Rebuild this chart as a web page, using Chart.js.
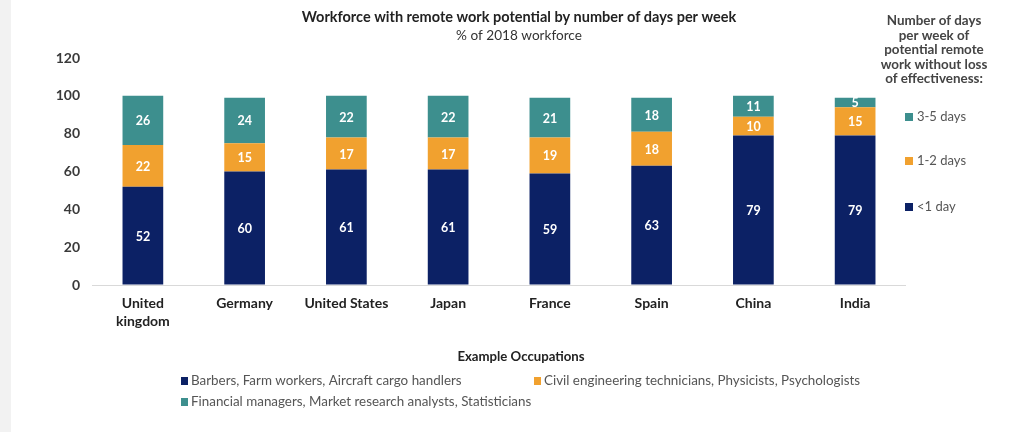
<!DOCTYPE html>
<html>
<head>
<meta charset="utf-8">
<title>Workforce with remote work potential</title>
<script src="https://cdn.jsdelivr.net/npm/chart.js@4.4.1/dist/chart.umd.min.js"></script>
<style>
  html, body { margin: 0; padding: 0; background: #ffffff; }
  #wrap { position: relative; width: 1009px; height: 432px; }
</style>
</head>
<body>
<div id="wrap"><canvas id="chart"></canvas></div>
<script>
// Countries along the x axis (multi-line labels as arrays)
const countries = [["United", "kingdom"], "Germany", "United States", "Japan", "France", "Spain", "China", "India"];

// Share of 2018 workforce, by days per week of remote work without loss of effectiveness
const lessThanOneDay = [52, 60, 61, 61, 59, 63, 79, 79];
const oneToTwoDays   = [22, 15, 17, 17, 19, 18, 10, 15];
const threeToFiveDays = [26, 24, 22, 22, 21, 18, 11, 5];

const seriesNames = ["<1 day", "1-2 days", "3-5 days"];
const occupations = [
  "Barbers, Farm workers, Aircraft cargo handlers",
  "Civil engineering technicians, Physicists, Psychologists",
  "Financial managers, Market research analysts, Statisticians"
];
const yTicks = [0, 20, 40, 60, 80, 100, 120];

const chartTitle = "Workforce with remote work potential by number of days per week";
const chartSubtitle = "% of 2018 workforce";
const sideLegendTitle = ["Number of days", "per week of", "potential remote", "work without loss", "of effectiveness:"];
const bottomLegendTitle = "Example Occupations";

const NAVY = "#0c2165";
const ORANGE = "#f1a12f";
const TEAL = "#3d8f8e";
const colors = [NAVY, ORANGE, TEAL];

const FONT = "Lato, 'Open Sans', sans-serif";

// White value labels in the middle of each stacked segment
const segmentLabels = {
  id: "segmentLabels",
  afterDatasetsDraw(chart) {
    const ctx = chart.ctx;
    ctx.save();
    ctx.fillStyle = "#ffffff";
    ctx.font = "bold 12.5px " + FONT;
    ctx.textAlign = "center";
    ctx.textBaseline = "middle";
    chart.data.datasets.forEach((ds, di) => {
      const meta = chart.getDatasetMeta(di);
      meta.data.forEach((bar, i) => {
        const v = ds.data[i];
        const cy = (bar.y + bar.base) / 2;
        ctx.fillText(String(v), bar.x, cy + 1);
      });
    });
    ctx.restore();
  }
};

// Page furniture: title block, side legend and occupation legend
const furniture = {
  id: "furniture",
  beforeDraw(chart) {
    const ctx = chart.ctx;
    ctx.save();
    ctx.fillStyle = "#f2f2f2";
    ctx.fillRect(0, 0, 11, chart.height);
    ctx.restore();
  },
  afterDraw(chart) {
    const ctx = chart.ctx;
    ctx.save();
    ctx.textBaseline = "middle";

    // Title and subtitle
    ctx.textAlign = "center";
    ctx.fillStyle = "#222222";
    ctx.font = "bold 14.5px " + FONT;
    ctx.fillText(chartTitle, 519, 17);
    ctx.font = "13.6px " + FONT;
    ctx.fillStyle = "#333333";
    ctx.fillText(chartSubtitle, 519, 36);

    // Side legend title
    ctx.font = "bold 13.4px " + FONT;
    ctx.fillStyle = "#444444";
    sideLegendTitle.forEach((line, k) => ctx.fillText(line, 934, 21 + k * 14.5));

    // Side legend entries (top to bottom: 3-5, 1-2, <1)
    ctx.textAlign = "left";
    ctx.font = "13px " + FONT;
    const sideY = [117, 161, 207];
    [2, 1, 0].forEach((si, k) => {
      ctx.fillStyle = colors[si];
      ctx.fillRect(905, sideY[k] - 4, 8, 8);
      ctx.fillStyle = "#555555";
      ctx.fillText(seriesNames[si], 917, sideY[k]);
    });

    // Occupation legend
    ctx.textAlign = "center";
    ctx.font = "bold 13.2px " + FONT;
    ctx.fillStyle = "#222222";
    ctx.fillText(bottomLegendTitle, 521, 357);
    ctx.textAlign = "left";
    ctx.font = "13.4px " + FONT;
    const spots = [[181, 381], [534, 381], [181, 402]];
    occupations.forEach((txt, k) => {
      const [x, y] = spots[k];
      ctx.fillStyle = colors[k];
      ctx.fillRect(x, y - 4, 7, 8);
      ctx.fillStyle = "#555555";
      ctx.fillText(txt, x + 10, y);
    });
    ctx.restore();
  }
};

new Chart(document.getElementById("chart"), {
  type: "bar",
  data: {
    labels: countries,
    datasets: [
      { label: seriesNames[0], data: lessThanOneDay, backgroundColor: NAVY },
      { label: seriesNames[1], data: oneToTwoDays, backgroundColor: ORANGE },
      { label: seriesNames[2], data: threeToFiveDays, backgroundColor: TEAL }
    ]
  },
  options: {
    responsive: true,
    maintainAspectRatio: false,
    animation: false,
    devicePixelRatio: 1,
    layout: { padding: { top: 58, right: 103, bottom: 87, left: 11 } },
    datasets: { bar: { categoryPercentage: 1, barPercentage: 0.4 } },
    plugins: {
      legend: { display: false },
      title: { display: false },
      tooltip: { enabled: false }
    },
    scales: {
      x: {
        stacked: true,
        grid: { display: false, drawTicks: false },
        border: { display: false },
        afterFit(scale) { scale.height = 60; },
        ticks: {
          padding: 9,
          maxRotation: 0,
          color: "#222222",
          font: { family: FONT, size: 14, weight: "bold", lineHeight: 1.29 }
        }
      },
      y: {
        stacked: true,
        min: 0,
        max: 120,
        afterFit(scale) { scale.width = 81; },
        afterBuildTicks(scale) { scale.ticks = yTicks.map(v => ({ value: v })); },
        border: { display: false },
        grid: {
          drawTicks: false,
          color: (c) => (c.tick && c.tick.value === 0 ? "#d9d9d9" : "rgba(0,0,0,0)"),
          lineWidth: 1
        },
        ticks: {
          padding: 12,
          color: "#3a3a3a",
          font: { family: FONT, size: 14, weight: "bold" }
        }
      }
    }
  },
  plugins: [segmentLabels, furniture]
});
</script>
</body>
</html>
